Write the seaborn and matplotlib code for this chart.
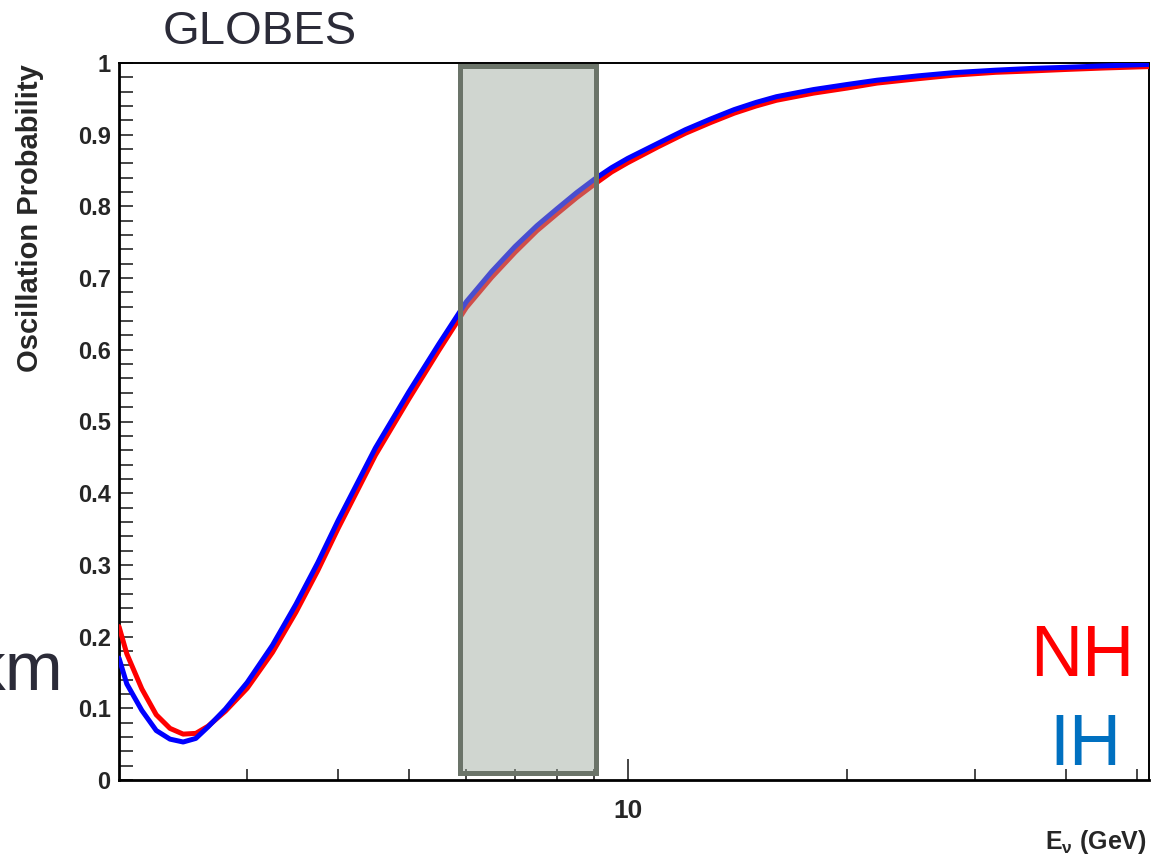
import numpy as np
import pandas as pd
import matplotlib
matplotlib.use("Agg")
import matplotlib.pyplot as plt
from matplotlib.patches import Rectangle
from matplotlib.ticker import FixedLocator, NullFormatter, FixedFormatter
import seaborn as sns

# ---- data ----
energy = [2.0, 2.05, 2.15, 2.25, 2.35, 2.45, 2.55, 2.65, 2.8, 3.0, 3.25, 3.5, 3.75,
          4.0, 4.5, 5.0, 5.5, 6.0, 6.5, 7.0, 7.5, 8.0, 8.5, 9.0, 9.5, 10, 11, 12,
          13, 14, 15, 16, 18, 20, 22, 25, 28, 32, 36, 40, 45, 52]
prob_ih = [0.170, 0.134, 0.097, 0.069, 0.057, 0.053, 0.058, 0.074, 0.099, 0.136,
           0.188, 0.245, 0.303, 0.362, 0.463, 0.541, 0.608, 0.667, 0.709, 0.744,
           0.773, 0.797, 0.819, 0.838, 0.854, 0.867, 0.888, 0.907, 0.922, 0.935,
           0.945, 0.953, 0.963, 0.970, 0.976, 0.982, 0.9865, 0.990, 0.9925, 0.994,
           0.996, 0.998]
prob_nh = [0.214, 0.176, 0.127, 0.091, 0.072, 0.064, 0.065, 0.075, 0.096, 0.128,
           0.178, 0.234, 0.292, 0.351, 0.453, 0.531, 0.599, 0.659, 0.701, 0.736,
           0.766, 0.790, 0.812, 0.831, 0.848, 0.861, 0.883, 0.902, 0.917, 0.930,
           0.940, 0.948, 0.958, 0.965, 0.972, 0.978, 0.983, 0.987, 0.989, 0.991,
           0.993, 0.995]
band_lo, band_hi = 5.88, 9.03
band_ylo, band_yhi = 0.01, 0.9965
y_major = [0, 0.1, 0.2, 0.3, 0.4, 0.5, 0.6, 0.7, 0.8, 0.9, 1.0]
y_labels = ["0", "0.1", "0.2", "0.3", "0.4", "0.5", "0.6", "0.7", "0.8", "0.9", "1"]
x_major = [10]
x_minor = [3, 4, 5, 6, 7, 8, 9, 20, 30, 40, 50]

df = pd.concat([
    pd.DataFrame({"E": energy, "P": prob_nh, "h": "NH"}),
    pd.DataFrame({"E": energy, "P": prob_ih, "h": "IH"}),
])

sns.set_style("ticks")
plt.rcParams["font.family"] = ["Liberation Sans", "DejaVu Sans"]
plt.rcParams["mathtext.fontset"] = "custom"
plt.rcParams["mathtext.rm"] = "Liberation Sans"
plt.rcParams["mathtext.it"] = "Liberation Sans"
plt.rcParams["mathtext.bf"] = "Liberation Sans:bold"

fig = plt.figure(figsize=(11.62, 8.58), dpi=100)
ax = fig.add_axes([119/1162, 1-780/858, (1149-119)/1162, (780-63)/858])

sns.lineplot(data=df, x="E", y="P", hue="h", hue_order=["NH", "IH"],
             palette={"NH": "#ff0000", "IH": "#0000ff"}, linewidth=3.6,
             legend=False, ax=ax, zorder=3)

ax.set_xscale("log")
ax.set_xlim(2, 52)
ax.set_ylim(0, 1.0)

# shaded band
ax.add_patch(Rectangle((band_lo, band_ylo), band_hi-band_lo, band_yhi-band_ylo,
                       facecolor="#9ca89c", alpha=0.47, edgecolor="none", zorder=4))
ax.add_patch(Rectangle((band_lo, band_ylo), band_hi-band_lo, band_yhi-band_ylo,
                       facecolor="none", edgecolor="#6b7469", linewidth=3.6, zorder=5))

ax.xaxis.set_major_locator(FixedLocator(x_major))
ax.xaxis.set_major_formatter(FixedFormatter(["10"]))
ax.xaxis.set_minor_locator(FixedLocator(x_minor))
ax.xaxis.set_minor_formatter(NullFormatter())
ax.yaxis.set_major_locator(FixedLocator(y_major))
ax.yaxis.set_major_formatter(FixedFormatter(y_labels))
ax.yaxis.set_minor_locator(FixedLocator(np.arange(0.02, 1.0, 0.02)))

ax.tick_params(axis="x", which="major", direction="in", length=15, width=1.2,
               labelsize=19, pad=14, top=False)
ax.tick_params(axis="x", which="minor", direction="in", length=8, width=1.2, top=False)
ax.tick_params(axis="y", which="both", direction="in", length=10, width=1.2,
               labelsize=17, pad=6, right=False)
for lab in ax.get_xticklabels() + ax.get_yticklabels():
    lab.set_fontweight("bold")

for s in ["left", "bottom"]:
    ax.spines[s].set_linewidth(2.0)
for s in ["top", "right"]:
    ax.spines[s].set_linewidth(1.4)
for s in ax.spines.values():
    s.set_color("black")
    s.set_visible(True)

ax.set_xlabel("")
ax.set_ylabel("")

# axis titles
fig.text(30/1162, 1-218/858, "Oscillation Probability", rotation=90, ha="center",
         va="center", fontsize=21, fontweight="bold")
fig.text(1147/1162, 1-849/858, r"$\mathbf{E}_{\mathbf{\nu}}$ (GeV)", ha="right",
         va="baseline", fontsize=18, fontweight="bold")

# slide texts
fig.text(260/1162, 1-43.5/858, "GLOBES", ha="center", va="baseline",
         fontsize=34, color="#2b2b38")
fig.text(63/1162, 1-690/858, "km", ha="right", va="baseline",
         fontsize=50, color="#2b2b38")
fig.text(1082/1162, 1-676/858, "NH", ha="center", va="baseline",
         fontsize=52, color="#ff0000")
fig.text(1085/1162, 1-765/858, "IH", ha="center", va="baseline",
         fontsize=52, color="#0070c0")

fig.savefig("out.png", dpi=100)
